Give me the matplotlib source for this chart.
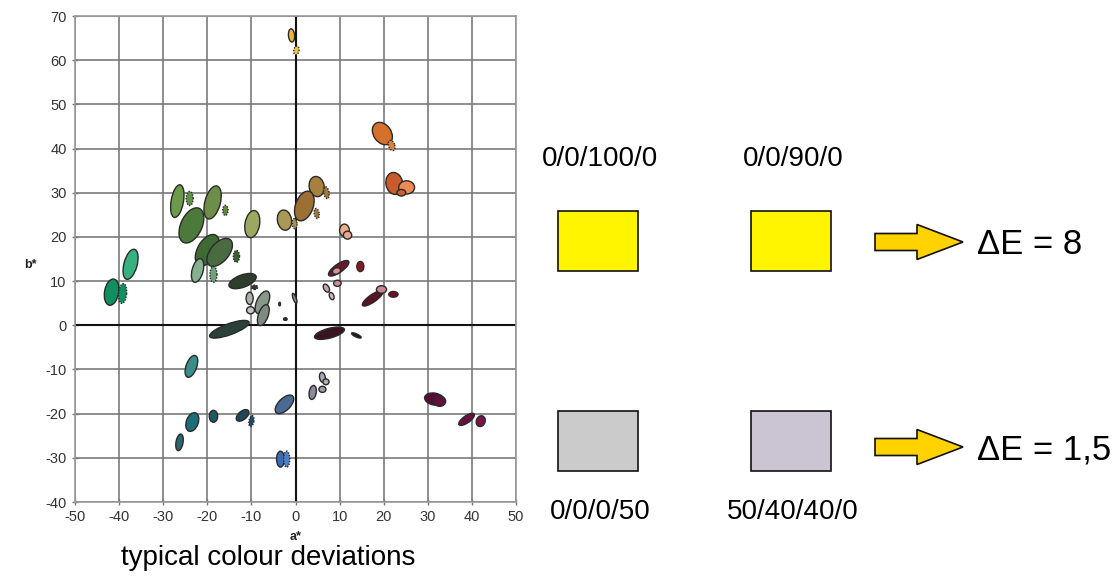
import matplotlib
matplotlib.use("Agg")
import matplotlib.pyplot as plt
from matplotlib.patches import Ellipse, Rectangle, Polygon

plt.rcParams["font.family"] = ["Liberation Sans", "DejaVu Sans"]
plt.rcParams["axes.unicode_minus"] = False

# colour deviation ellipses: centre (a*, b*), major/minor axis, tilt
ell_a = [-0.9, 0.2, 19.7, 21.8, 22.4, 25.2, 24.0, 4.8, 7.0, 2.0, 4.8, -2.5, -0.2,
         11.1, 11.8, 9.8, 9.3, 14.7, 9.5, 7.0, 8.2, 17.5, 19.5, 22.2, 7.7, 13.8,
         -0.2, -2.3, -26.8, -24.0, -18.8, -15.9, -23.6, -9.8, -20.0, -17.2, -13.4,
         -22.2, -18.6, -37.4, -41.7, -39.2, -12.0, -9.3, -10.4, -10.2, -7.5, -7.3,
         -15.0, -3.6, -23.6, -23.4, -26.3, -18.6, -12.0, -10.0, -2.5, -3.4, -2.0,
         3.9, 6.1, 6.1, 6.9, 31.5, 32.7, 38.8, 42.0]
ell_b = [65.6, 62.2, 43.4, 40.7, 32.1, 31.2, 30.0, 31.4, 30.0, 27.0, 25.3, 23.8, 23.0,
         21.5, 20.4, 12.9, 12.3, 13.3, 9.5, 8.4, 6.6, 6.1, 8.1, 7.0, -1.8, -2.3,
         6.1, 1.4, 28.1, 28.7, 27.8, 26.0, 22.6, 22.9, 17.0, 16.5, 15.6,
         12.4, 11.5, 13.8, 7.5, 7.2, 10.0, 8.6, 6.1, 3.4, 5.2, 2.3,
         -0.9, 4.8, -9.3, -21.9, -26.5, -20.6, -20.4, -21.7, -17.9, -30.3, -30.3,
         -15.2, -11.8, -14.5, -12.8, -16.7, -17.2, -21.3, -21.7]
ell_len = [3.0, 2.0, 5.5, 2.4, 5.0, 3.6, 2.0, 4.6, 2.7, 7.0, 2.3, 4.6, 2.3,
           2.8, 1.9, 5.5, 1.9, 2.3, 1.7, 2.0, 1.7, 5.6, 2.3, 2.1, 7.0, 2.4,
           2.4, 0.8, 7.5, 3.2, 7.7, 2.3, 8.5, 6.2, 7.8, 7.5, 2.7,
           5.5, 3.6, 7.0, 6.0, 4.5, 6.5, 1.5, 2.8, 1.8, 5.5, 5.0,
           9.5, 0.8, 5.2, 4.4, 3.8, 2.7, 3.4, 2.5, 5.3, 3.6, 3.6,
           3.2, 2.3, 1.6, 1.4, 4.5, 2.7, 4.2, 2.5]
ell_wid = [1.4, 1.2, 4.0, 1.4, 3.8, 3.0, 1.5, 3.4, 1.2, 4.0, 1.1, 3.2, 1.1,
           2.2, 1.8, 1.9, 1.4, 1.6, 1.4, 1.2, 1.0, 1.7, 1.7, 1.3, 2.2, 0.7,
           0.7, 0.6, 2.8, 1.6, 3.5, 1.2, 4.8, 3.3, 4.4, 4.2, 1.4,
           2.5, 1.6, 3.0, 3.2, 1.8, 2.8, 1.0, 1.6, 1.6, 2.6, 2.2,
           2.5, 0.4, 2.4, 2.7, 1.6, 1.9, 1.9, 1.1, 2.7, 1.8, 1.4,
           1.6, 1.3, 1.4, 1.3, 2.7, 2.3, 1.6, 2.0]
ell_ang = [95, 80, 125, 110, 100, 0, 0, 100, 100, 70, 100, 100, 95,
           90, 0, 35, 20, 90, 0, 120, 110, 35, 0, 0, 15, -25,
           110, 0, 80, 90, 75, 90, 65, 80, 60, 50, 90,
           75, 90, 75, 80, 85, 20, 0, 90, 0, 65, 70,
           20, 90, 70, 70, 80, 90, 40, 80, 45, 90, 90,
           80, 100, 0, 0, -10, 0, 35, 70]
ell_col = ["#E8B83A", "#EDC24A", "#D4712A", "#D98040", "#C85A2E", "#EE8A55", "#C86030",
           "#A8803E", "#A07838", "#9C7034", "#9E7A40", "#A89A55", "#A39050",
           "#EDAE88", "#E8A598", "#6A1A2E", "#D98F98", "#8E1622", "#C8909A", "#C0A8B0",
           "#D8B8C0", "#5A1226", "#C88890", "#7A0A1E", "#3A1420", "#2A1418",
           "#8A8A90", "#333333", "#6A9A4A", "#5E9048", "#6C8E48", "#5C8A40", "#4C7A3A",
           "#9AA860", "#3E6A34", "#4A6A40", "#3A6030", "#86B08E", "#70A078", "#38B080",
           "#0E9060", "#109060", "#2E3E2C", "#303A2E", "#A8B4A8", "#C0C8C0", "#889888",
           "#7C8C80", "#2A4038", "#444444", "#3A8E8A", "#1E6E78", "#2A6870", "#1E5A60",
           "#1E4858", "#1E4A6A", "#4A6A94", "#3C6CB0", "#4A80C8",
           "#8A8E9C", "#A8A8B4", "#9C9CA8", "#B0B0B8", "#5A0A38", "#64103C", "#6A1040",
           "#7A1448"]
ell_dash = [0, 1, 0, 1, 0, 0, 0, 0, 1, 0, 1, 0, 1,
            0, 0, 0, 0, 0, 0, 0, 0, 0, 0, 0, 0, 0,
            0, 0, 0, 1, 0, 1, 0, 0, 0, 0, 1,
            0, 1, 0, 0, 1, 0, 1, 0, 0, 0, 0,
            0, 0, 0, 0, 0, 0, 0, 1, 0, 0, 1,
            0, 0, 0, 0, 0, 0, 0, 0]

ticks = list(range(-50, 51, 10))
yticks = list(range(-40, 71, 10))

# swatch comparison
swatch_labels = ["0/0/100/0", "0/0/90/0", "0/0/0/50", "50/40/40/0"]
swatch_colors = ["#FFF500", "#FFF500", "#CBCBCB", "#CBC4D3"]
delta_e = ["8", "1,5"]

fig = plt.figure(figsize=(11.15, 5.76), dpi=100)
ax = fig.add_axes([75 / 1115, 1 - 502 / 576, 441 / 1115, 486 / 576])

for a, b, l, w, ang, c, d in zip(ell_a, ell_b, ell_len, ell_wid, ell_ang, ell_col, ell_dash):
    e = Ellipse((a, b), l, w, angle=ang, facecolor=c, edgecolor="#2a2a2a",
                linewidth=1.0, linestyle=(0, (1, 1)) if d else "-", zorder=3)
    ax.add_patch(e)

ax.set_xlim(-50, 50)
ax.set_ylim(-40, 70)
ax.set_xticks(ticks)
ax.set_yticks(yticks)
ax.grid(True, color="#7a7a7a", linewidth=1.2, zorder=0)
ax.axhline(0, color="#111111", linewidth=1.5, zorder=1)
ax.axvline(0, color="#111111", linewidth=1.5, zorder=1)
ax.set_axisbelow(True)
for s in ax.spines.values():
    s.set_color("#999999")
    s.set_linewidth(1.2)
ax.tick_params(direction="inout", length=5, width=1, color="#777777",
               labelsize=10.5, labelcolor="#333333")

# overlay in pixel coordinates for annotations
ov = fig.add_axes([0, 0, 1, 1])
ov.set_xlim(0, 1115)
ov.set_ylim(576, 0)
ov.axis("off")
ov.patch.set_visible(False)

ov.text(296, 537, "a*", ha="center", va="center", fontsize=9, fontweight="bold", color="#222222")
ov.text(30, 265, "b*", ha="center", va="center", fontsize=9, fontweight="bold", color="#222222")
ov.text(268, 558, "typical colour deviations", ha="center", va="center", fontsize=20)

box_x = [558, 751, 558, 751]
box_y = [211, 211, 411, 411]
lab_x = [542, 743, 550, 727]
lab_y = [159, 159, 512, 512]
for i in range(4):
    ov.add_patch(Rectangle((box_x[i], box_y[i]), 80, 60, facecolor=swatch_colors[i],
                           edgecolor="#111111", linewidth=1.2))
    ov.text(lab_x[i], lab_y[i], swatch_labels[i], ha="left", va="center", fontsize=20)

arrow_y = [242, 447]
for yc, de in zip(arrow_y, delta_e):
    x0, xh, x1 = 875, 917, 963
    pts = [(x0, yc - 8.5), (xh, yc - 8.5), (xh, yc - 17.5), (x1, yc),
           (xh, yc + 17.5), (xh, yc + 8.5), (x0, yc + 8.5)]
    ov.add_patch(Polygon(pts, closed=True, facecolor="#FFD200", edgecolor="#111111", linewidth=1.2))
    ov.text(977, yc + 3, "\u0394E = " + de, ha="left", va="center", fontsize=25)

fig.savefig("out.png", dpi=100)
